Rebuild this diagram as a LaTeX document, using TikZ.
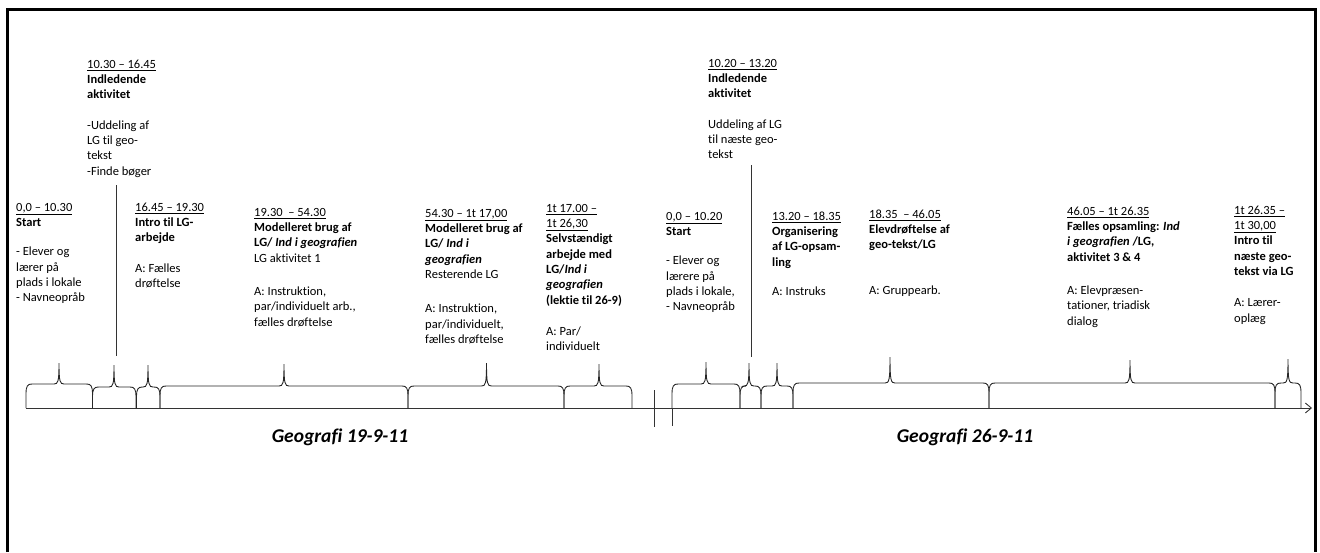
\documentclass[tikz,border=0pt]{standalone}
\usepackage{fontspec}
\setmainfont{Carlito}[Ligatures=NoCommon]
\usetikzlibrary{arrows.meta}
\tikzset{
  blk/.style={anchor=north west, inner sep=0pt, align=left, font=\fontsize{12.5}{15.3}\selectfont},
  ttl/.style={inner sep=0pt, font=\fontsize{19.5}{22}\selectfont\bfseries\itshape},
  bracel/.style={line width=0.9pt, black!85},
  frameline/.style={line width=3pt, black},
  axisline/.style={line width=0.9pt, black!80},
}
% brace: x1, tip x, x2, top y, tip y
\newcommand\tlbrace[5]{%
  \draw[bracel] (#1,408) -- (#1,{#4+10}) .. controls (#1,{#4+2}) and ({#1+1.5},#4) .. ({#1+6},#4)
    -- ({#2-5},#4) .. controls ({#2-1},#4) and (#2,{#4-2}) .. (#2,#5)
    .. controls (#2,{#4-2}) and ({#2+1},#4) .. ({#2+5},#4)
    -- ({#3-6},#4) .. controls ({#3-1.5},#4) and (#3,{#4+2}) .. (#3,{#4+10}) -- (#3,408);}
\newcommand\strt{\rule{0pt}{10pt}}
\begin{document}
\begin{tikzpicture}[x=1pt,y=-1pt]
\useasboundingbox (0,0) rectangle (1320,552);
\draw[frameline] (7.5,552) -- (7.5,9.5) -- (1315,9.5) -- (1315,552);

% axis
\coordinate (axs) at (26,408);
\coordinate (axe) at (1312,408);
\draw[axisline,-{Straight Barb[length=6pt,width=10pt]}] (axs) -- (axe);
\draw[axisline] (654,390) -- (654,427);
\draw[axisline] (672,408) -- (672,426);

% left session braces
\tlbrace{26}{59}{92.5}{384}{363}
\tlbrace{92.5}{114}{136}{387}{365}
\tlbrace{136.5}{148}{160}{387}{365}
\tlbrace{160}{284}{408}{386}{364}
\tlbrace{408}{486.5}{564}{386}{363}
\tlbrace{564}{599}{632}{386}{364}

% right session braces
\tlbrace{672}{706}{740}{384}{362}
\tlbrace{740}{749}{761}{386}{363}
\tlbrace{761}{777}{793}{386}{363}
\tlbrace{793}{890}{989}{383}{357}
\tlbrace{989}{1130}{1275}{383}{360}
\tlbrace{1275}{1288}{1301}{383}{359}

% text blocks left
\node[blk] (L0) at (87,58) {\strt\underline{10.30 – 16.45}\\ \textbf{Indledende}\\ \textbf{aktivitet}\\[15pt] -Uddeling af\\ LG til geo-\\ tekst\\ -Finde bøger};
\node[blk] (L1) at (16,201) {\strt\underline{0,0 – 10.30}\\ \textbf{Start}\\[14pt] - Elever og\\ lærer på\\ plads i lokale\\ - Navneopråb};
\node[blk] (L2) at (135,201) {\strt\underline{16.45 – 19.30}\\ \textbf{Intro til LG-}\\ \textbf{arbejde}\\[15pt] A: Fælles\\ drøftelse};
\node[blk] (L3) at (254,206) {\strt\underline{19.30 \ – 54.30}\\ \textbf{Modelleret brug af}\\ \textbf{LG/ \textit{Ind i geografien}}\\ LG aktivitet 1\\[18pt] A: Instruktion,\\ par/individuelt arb.,\\ fælles drøftelse};
\node[blk] (L4) at (425,207) {\strt\underline{54.30 – 1t 17,00}\\ \textbf{Modelleret brug af}\\ \textbf{LG/ \textit{Ind i}}\\ \textbf{\textit{geografien}}\\ Resterende LG\\[19pt] A: Instruktion,\\ par/individuelt,\\ fælles drøftelse};
\node[blk] (L5) at (546,202) {\strt\underline{1t 17.00 –}\\ \underline{1t 26,30}\\ \textbf{Selvstændigt}\\ \textbf{arbejde med}\\ \textbf{LG/\textit{Ind i}}\\ \textbf{\textit{geografien}}\\ \textbf{(lektie til 26-9)}\\[16pt] A: Par/\\ individuelt};

% text blocks right
\node[blk] (R0) at (708,57) {\strt\underline{10.20 – 13.20}\\ \textbf{Indledende}\\ \textbf{aktivitet}\\[15pt] Uddeling af LG\\ til næste geo-\\ tekst};
\node[blk] (R1) at (666,210) {\strt\underline{0,0 – 10.20}\\ \textbf{Start}\\[14pt] - Elever og\\ lærere på\\ plads i lokale,\\ - Navneopråb};
\node[blk] (R2) at (772,210) {\strt\underline{13.20 – 18.35}\\ \textbf{Organisering}\\ \textbf{af LG-opsam-}\\ \textbf{ling}\\[14pt] A: Instruks};
\node[blk] (R3) at (869,208) {\strt\underline{18.35 \ – 46.05}\\ \textbf{Elevdrøftelse af}\\ \textbf{geo-tekst/LG}\\[30pt] A: Gruppearb.};
\node[blk] (R4) at (1067,205) {\strt\underline{46.05 – 1t 26.35}\\ \textbf{Fælles opsamling: \textit{Ind}}\\ \textbf{\textit{i geografien} /LG,}\\ \textbf{aktivitet 3 \& 4}\\[18pt] A: Elevpræsen-\\ tationer, triadisk\\ dialog};
\node[blk] (R5) at (1234,204) {\strt\underline{1t 26.35 –}\\ \underline{1t 30,00}\\ \textbf{Intro til}\\ \textbf{næste geo-}\\ \textbf{tekst via LG}\\[16pt] A: Lærer-\\ oplæg};

% pointer lines
\coordinate (p1a) at (116,185);
\coordinate (p1b) at (116,356);
\coordinate (p2a) at (751,165);
\coordinate (p2b) at (751,357);
\draw[axisline] (p1a) -- (p1b);
\draw[axisline] (p2a) -- (p2b);

% titles
\node[ttl] (T1) at (340,437) {Geografi 19-9-11};
\node[ttl] (T2) at (965,437) {Geografi 26-9-11};
\end{tikzpicture}
\end{document}
